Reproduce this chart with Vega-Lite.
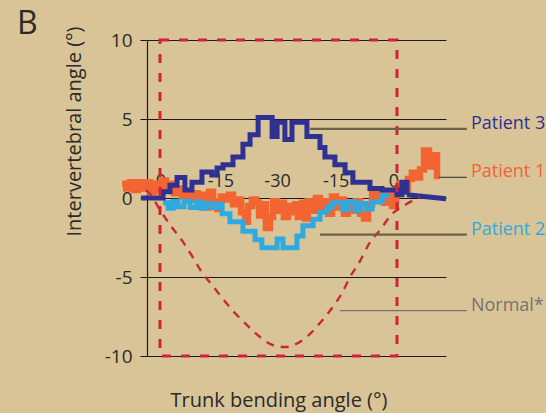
{
  "$schema": "https://vega.github.io/schema/vega-lite/v6.json",
  "width": 299,
  "height": 316,
  "autosize": {"type": "none"},
  "padding": {"left": 147, "top": 40, "right": 100, "bottom": 57},
  "background": "#d9c497",
  "title": {"text": "B", "anchor": "start", "frame": "group", "fontSize": 32, "fontWeight": "normal", "font": "Open Sans", "color": "#2a2a2a", "dx": -130, "dy": 40, "offset": 0, "baseline": "alphabetic"},
  "config": {"view": {"stroke": null}, "font": "Open Sans"},
  "datasets": {
    "ticks": [
      {"x": 0.4, "label": "0"},
      {"x": 25.7, "label": "-15"},
      {"x": 49.6, "label": "-30"},
      {"x": 74.3, "label": "-15"},
      {"x": 98.7, "label": "0"}
    ],
    "p1": [
      {"series": "Patient 1", "x": -16.0, "y": 0.9}, {"series": "Patient 1", "x": -14.3, "y": 0.6}, {"series": "Patient 1", "x": -12.7, "y": 1.0}, {"series": "Patient 1", "x": -11.0, "y": 0.5},
      {"series": "Patient 1", "x": -9.3, "y": 1.0}, {"series": "Patient 1", "x": -7.6, "y": 0.6}, {"series": "Patient 1", "x": -5.9, "y": 1.0}, {"series": "Patient 1", "x": -4.2, "y": 0.4},
      {"series": "Patient 1", "x": -2.5, "y": 0.9}, {"series": "Patient 1", "x": -0.8, "y": 0.5}, {"series": "Patient 1", "x": 0.8, "y": 1.1}, {"series": "Patient 1", "x": 2.5, "y": 0.6},
      {"series": "Patient 1", "x": 4.2, "y": 0.9}, {"series": "Patient 1", "x": 5.9, "y": 0.3}, {"series": "Patient 1", "x": 7.6, "y": 0.6}, {"series": "Patient 1", "x": 9.3, "y": 0.1},
      {"series": "Patient 1", "x": 11.0, "y": 0.4}, {"series": "Patient 1", "x": 12.7, "y": -0.1}, {"series": "Patient 1", "x": 14.3, "y": 0.3}, {"series": "Patient 1", "x": 16.0, "y": -0.3},
      {"series": "Patient 1", "x": 17.7, "y": 0.2}, {"series": "Patient 1", "x": 19.4, "y": -0.6}, {"series": "Patient 1", "x": 20.7, "y": 0.4}, {"series": "Patient 1", "x": 22.4, "y": -0.2},
      {"series": "Patient 1", "x": 24.1, "y": -0.7}, {"series": "Patient 1", "x": 25.7, "y": 0.1}, {"series": "Patient 1", "x": 27.4, "y": -0.1}, {"series": "Patient 1", "x": 29.1, "y": 0.2},
      {"series": "Patient 1", "x": 30.8, "y": -0.4}, {"series": "Patient 1", "x": 32.5, "y": -0.1}, {"series": "Patient 1", "x": 34.2, "y": -0.9}, {"series": "Patient 1", "x": 35.9, "y": -1.5},
      {"series": "Patient 1", "x": 37.1, "y": -0.5}, {"series": "Patient 1", "x": 38.8, "y": -0.1}, {"series": "Patient 1", "x": 40.5, "y": -0.3}, {"series": "Patient 1", "x": 41.8, "y": -1.1},
      {"series": "Patient 1", "x": 43.0, "y": -0.4}, {"series": "Patient 1", "x": 44.7, "y": -1.9}, {"series": "Patient 1", "x": 46.4, "y": -1.2}, {"series": "Patient 1", "x": 47.7, "y": -0.2},
      {"series": "Patient 1", "x": 49.4, "y": -0.8}, {"series": "Patient 1", "x": 51.1, "y": -0.3}, {"series": "Patient 1", "x": 52.3, "y": -1.2}, {"series": "Patient 1", "x": 54.0, "y": -0.5},
      {"series": "Patient 1", "x": 55.3, "y": -0.9}, {"series": "Patient 1", "x": 57.0, "y": -0.4}, {"series": "Patient 1", "x": 58.2, "y": -1.2}, {"series": "Patient 1", "x": 59.9, "y": -0.3},
      {"series": "Patient 1", "x": 61.2, "y": -1.3}, {"series": "Patient 1", "x": 62.4, "y": -0.2}, {"series": "Patient 1", "x": 64.1, "y": -0.8}, {"series": "Patient 1", "x": 65.8, "y": 0.0},
      {"series": "Patient 1", "x": 67.5, "y": -0.7}, {"series": "Patient 1", "x": 69.2, "y": -0.2}, {"series": "Patient 1", "x": 70.9, "y": -1.0}, {"series": "Patient 1", "x": 72.6, "y": 0.1},
      {"series": "Patient 1", "x": 74.3, "y": -0.6}, {"series": "Patient 1", "x": 75.9, "y": -0.1}, {"series": "Patient 1", "x": 77.6, "y": -1.0}, {"series": "Patient 1", "x": 79.3, "y": -0.3},
      {"series": "Patient 1", "x": 81.0, "y": -0.8}, {"series": "Patient 1", "x": 82.7, "y": -0.2}, {"series": "Patient 1", "x": 84.4, "y": -1.0}, {"series": "Patient 1", "x": 86.1, "y": -1.3},
      {"series": "Patient 1", "x": 87.8, "y": -0.4}, {"series": "Patient 1", "x": 89.5, "y": 0.3}, {"series": "Patient 1", "x": 91.1, "y": -0.1}, {"series": "Patient 1", "x": 92.8, "y": 0.4},
      {"series": "Patient 1", "x": 94.5, "y": -0.3}, {"series": "Patient 1", "x": 96.2, "y": 0.2}, {"series": "Patient 1", "x": 97.9, "y": -0.5}, {"series": "Patient 1", "x": 99.6, "y": 0.5},
      {"series": "Patient 1", "x": 101.3, "y": 0.9}, {"series": "Patient 1", "x": 103.0, "y": 0.6}, {"series": "Patient 1", "x": 104.6, "y": 1.2}, {"series": "Patient 1", "x": 106.3, "y": 1.6},
      {"series": "Patient 1", "x": 108.0, "y": 1.3}, {"series": "Patient 1", "x": 109.7, "y": 1.8}, {"series": "Patient 1", "x": 111.4, "y": 3.0}, {"series": "Patient 1", "x": 113.5, "y": 2.0},
      {"series": "Patient 1", "x": 115.2, "y": 2.7}, {"series": "Patient 1", "x": 116.9, "y": 1.4}, {"series": "Patient 1", "x": 118.1, "y": 1.4}
    ],
    "p2": [
      {"series": "Patient 2", "x": 1.3, "y": -0.3}, {"series": "Patient 2", "x": 3.4, "y": -0.65}, {"series": "Patient 2", "x": 5.5, "y": -0.2}, {"series": "Patient 2", "x": 7.6, "y": -0.55},
      {"series": "Patient 2", "x": 10.1, "y": -0.2}, {"series": "Patient 2", "x": 12.7, "y": -0.6}, {"series": "Patient 2", "x": 15.2, "y": -0.25}, {"series": "Patient 2", "x": 17.3, "y": -0.65},
      {"series": "Patient 2", "x": 19.4, "y": -0.35}, {"series": "Patient 2", "x": 21.9, "y": -0.6}, {"series": "Patient 2", "x": 24.5, "y": -0.4}, {"series": "Patient 2", "x": 26.2, "y": -1.0},
      {"series": "Patient 2", "x": 29.5, "y": -1.5}, {"series": "Patient 2", "x": 35.0, "y": -2.1}, {"series": "Patient 2", "x": 40.1, "y": -2.65}, {"series": "Patient 2", "x": 43.0, "y": -3.15},
      {"series": "Patient 2", "x": 49.4, "y": -2.6}, {"series": "Patient 2", "x": 51.9, "y": -3.15}, {"series": "Patient 2", "x": 57.8, "y": -2.4}, {"series": "Patient 2", "x": 60.3, "y": -1.75},
      {"series": "Patient 2", "x": 64.6, "y": -1.35}, {"series": "Patient 2", "x": 67.5, "y": -0.9}, {"series": "Patient 2", "x": 70.5, "y": -0.6}, {"series": "Patient 2", "x": 72.6, "y": -0.3},
      {"series": "Patient 2", "x": 77.2, "y": -0.75}, {"series": "Patient 2", "x": 79.3, "y": -0.25}, {"series": "Patient 2", "x": 82.3, "y": -0.8}, {"series": "Patient 2", "x": 84.4, "y": -0.35},
      {"series": "Patient 2", "x": 86.9, "y": -0.7}, {"series": "Patient 2", "x": 89.5, "y": -0.25}, {"series": "Patient 2", "x": 93.7, "y": 0.15}, {"series": "Patient 2", "x": 97.0, "y": 0.15}
    ],
    "p3": [
      {"series": "Patient 3", "x": -8.0, "y": 0.0}, {"series": "Patient 3", "x": 1.3, "y": 0.4}, {"series": "Patient 3", "x": 4.2, "y": 0.8}, {"series": "Patient 3", "x": 7.2, "y": 1.3},
      {"series": "Patient 3", "x": 10.5, "y": 0.5}, {"series": "Patient 3", "x": 13.5, "y": 1.0}, {"series": "Patient 3", "x": 17.7, "y": 1.65}, {"series": "Patient 3", "x": 21.9, "y": 1.45},
      {"series": "Patient 3", "x": 24.1, "y": 1.9}, {"series": "Patient 3", "x": 26.6, "y": 2.1}, {"series": "Patient 3", "x": 30.8, "y": 2.6}, {"series": "Patient 3", "x": 35.0, "y": 3.4},
      {"series": "Patient 3", "x": 38.0, "y": 4.0}, {"series": "Patient 3", "x": 41.4, "y": 5.1}, {"series": "Patient 3", "x": 47.3, "y": 3.9}, {"series": "Patient 3", "x": 49.4, "y": 4.8},
      {"series": "Patient 3", "x": 52.7, "y": 3.7}, {"series": "Patient 3", "x": 55.7, "y": 4.8}, {"series": "Patient 3", "x": 62.0, "y": 3.9}, {"series": "Patient 3", "x": 67.5, "y": 3.2},
      {"series": "Patient 3", "x": 69.6, "y": 2.6}, {"series": "Patient 3", "x": 73.8, "y": 2.1}, {"series": "Patient 3", "x": 78.1, "y": 1.6}, {"series": "Patient 3", "x": 81.4, "y": 1.0},
      {"series": "Patient 3", "x": 88.6, "y": 0.6}, {"series": "Patient 3", "x": 93.7, "y": 0.5}, {"series": "Patient 3", "x": 100.0, "y": 0.2}, {"series": "Patient 3", "x": 102.1, "y": 1.0},
      {"series": "Patient 3", "x": 104.2, "y": 0.2}
    ],
    "p3tail": [
      {"series": "Patient 3", "x": 104.2, "y": 0.2}, {"series": "Patient 3", "x": 120.7, "y": -0.05}
    ],
    "normal": [
      {"x": -5.9, "y": 0.5}, {"x": -4.2, "y": 0.25}, {"x": 0.0, "y": -0.76}, {"x": 4.6, "y": -1.77}, {"x": 9.7, "y": -2.78},
      {"x": 13.5, "y": -3.67}, {"x": 17.3, "y": -4.62}, {"x": 21.9, "y": -5.5}, {"x": 26.6, "y": -6.39}, {"x": 31.6, "y": -7.28},
      {"x": 36.7, "y": -8.04}, {"x": 42.2, "y": -8.8}, {"x": 48.9, "y": -9.37}, {"x": 53.2, "y": -9.43}, {"x": 56.5, "y": -9.3},
      {"x": 62.4, "y": -8.73}, {"x": 67.5, "y": -7.91}, {"x": 72.6, "y": -6.96}, {"x": 76.8, "y": -6.01}, {"x": 80.2, "y": -5.0},
      {"x": 84.4, "y": -3.99}, {"x": 88.2, "y": -2.91}, {"x": 93.2, "y": -1.96}, {"x": 97.5, "y": -1.08}, {"x": 103.4, "y": -0.44},
      {"x": 109.7, "y": 0.06}
    ],
    "window": [
      {"x1": 0, "x2": 100, "y1": -10, "y2": 10}
    ],
    "leaders": [
      {"series": "Patient 3", "x1": 63.3, "x2": 129.5, "y": 4.37},
      {"series": "Patient 1", "x1": 117.7, "x2": 129.5, "y": 1.31},
      {"series": "Patient 2", "x1": 67.5, "x2": 129.5, "y": -2.32},
      {"series": "Normal*", "x1": 75.9, "x2": 129.5, "y": -7.13}
    ]
  },
  "encoding": {
    "x": {"type": "quantitative",
      "scale": {"domain": [-5.485, 120.68], "nice": false, "zero": false},
      "axis": {"title": "Trunk bending angle (°)", "labels": false, "ticks": false, "domain": false, "grid": false,
        "titleFont": "Open Sans", "titleFontSize": 20, "titleFontWeight": "normal", "titleColor": "#2a2a2a",
        "titleX": 131.5, "titleY": 50, "titleBaseline": "alphabetic", "titleAlign": "center"}},
    "y": {"type": "quantitative",
      "scale": {"domain": [-10, 10], "nice": false, "zero": false},
      "axis": {"title": "Intervertebral angle (°)", "values": [-10, -5, 0, 5, 10], "grid": true, "gridColor": "#1a1a1a", "gridWidth": 1,
        "domainColor": "#1a1a1a", "domainWidth": 1.2, "tickColor": "#1a1a1a", "tickSize": 7, "tickWidth": 1,
        "labelExpr": "datum.value < 0 ? '-' + abs(datum.value) : '' + datum.value",
        "labelFont": "Open Sans", "labelFontSize": 19, "labelColor": "#2a2a2a", "labelPadding": 8,
        "titleFont": "Open Sans", "titleFontSize": 20, "titleFontWeight": "normal", "titleColor": "#2a2a2a",
        "titleX": -73, "titleY": 91, "titleAngle": -90, "titleAlign": "center", "titleBaseline": "middle"}}
  },
  "layer": [
    {
      "data": {"name": "ticks"},
      "mark": {"type": "text", "fontSize": 18, "font": "Open Sans", "color": "#2a2a2a", "baseline": "alphabetic", "align": "center", "dy": -11},
      "encoding": {
        "x": {"field": "x", "type": "quantitative"},
        "y": {"datum": 0, "type": "quantitative"},
        "text": {"field": "label"}
      }
    },
    {
      "data": {"name": "p1"},
      "mark": {"type": "line", "interpolate": "step-after", "strokeWidth": 6.5},
      "encoding": {
        "x": {"field": "x", "type": "quantitative"},
        "y": {"field": "y", "type": "quantitative"},
        "color": {"field": "series", "type": "nominal", "legend": null,
          "scale": {"domain": ["Patient 1", "Patient 2", "Patient 3", "Normal*"], "range": ["#f26532", "#2eaae1", "#2e3192", "#737373"]}}
      }
    },
    {
      "data": {"name": "p2"},
      "mark": {"type": "line", "interpolate": "step-after", "strokeWidth": 5},
      "encoding": {
        "x": {"field": "x", "type": "quantitative"},
        "y": {"field": "y", "type": "quantitative"},
        "color": {"field": "series", "type": "nominal", "legend": null}
      }
    },
    {
      "data": {"name": "p3"},
      "mark": {"type": "line", "interpolate": "step-after", "strokeWidth": 5},
      "encoding": {
        "x": {"field": "x", "type": "quantitative"},
        "y": {"field": "y", "type": "quantitative"},
        "color": {"field": "series", "type": "nominal", "legend": null}
      }
    },
    {
      "data": {"name": "p3tail"},
      "mark": {"type": "line", "strokeWidth": 5},
      "encoding": {
        "x": {"field": "x", "type": "quantitative"},
        "y": {"field": "y", "type": "quantitative"},
        "color": {"field": "series", "type": "nominal", "legend": null}
      }
    },
    {
      "data": {"name": "normal"},
      "mark": {"type": "line", "interpolate": "monotone", "strokeWidth": 2.4, "strokeDash": [8, 7], "color": "#c9283c"},
      "encoding": {
        "x": {"field": "x", "type": "quantitative"},
        "y": {"field": "y", "type": "quantitative"}
      }
    },
    {
      "data": {"name": "window"},
      "mark": {"type": "rect", "filled": false, "stroke": "#d0233a", "strokeWidth": 3, "strokeDash": [9, 10]},
      "encoding": {
        "x": {"field": "x1", "type": "quantitative"},
        "x2": {"field": "x2"},
        "y": {"field": "y1", "type": "quantitative"},
        "y2": {"field": "y2"}
      }
    },
    {
      "data": {"name": "leaders"},
      "transform": [{"filter": "datum.series === 'Patient 3' || datum.series === 'Patient 2'"}],
      "mark": {"type": "rule", "color": "#6b624c", "strokeWidth": 2.2},
      "encoding": {
        "x": {"field": "x1", "type": "quantitative"},
        "x2": {"field": "x2"},
        "y": {"field": "y", "type": "quantitative"}
      }
    },
    {
      "data": {"name": "leaders"},
      "transform": [{"filter": "datum.series === 'Patient 1'"}],
      "mark": {"type": "rule", "color": "#2a2a2a", "strokeWidth": 1},
      "encoding": {
        "x": {"field": "x1", "type": "quantitative"},
        "x2": {"field": "x2"},
        "y": {"field": "y", "type": "quantitative"}
      }
    },
    {
      "data": {"name": "leaders"},
      "transform": [{"filter": "datum.series === 'Normal*'"}],
      "mark": {"type": "rule", "color": "#737373", "strokeWidth": 1.3},
      "encoding": {
        "x": {"field": "x1", "type": "quantitative"},
        "x2": {"field": "x2"},
        "y": {"field": "y", "type": "quantitative"}
      }
    },
    {
      "data": {"name": "leaders"},
      "mark": {"type": "text", "fontSize": 18, "font": "Open Sans", "align": "left", "baseline": "alphabetic", "dx": 4},
      "encoding": {
        "x": {"field": "x2", "type": "quantitative"},
        "y": {"field": "y", "type": "quantitative"},
        "text": {"field": "series"},
        "color": {"field": "series", "type": "nominal", "legend": null}
      }
    }
  ]
}
